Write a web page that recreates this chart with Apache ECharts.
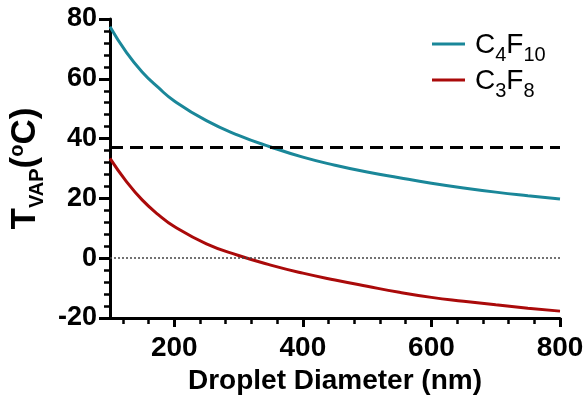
<!DOCTYPE html>
<html>
<head>
<meta charset="utf-8">
<script src="https://cdn.jsdelivr.net/npm/echarts@6/dist/echarts.min.js"></script>
<style>
	html, body { margin: 0; padding: 0; background: #fff; }
	#chart { width: 585px; height: 406px; }
</style>
</head>
<body>
<div id="chart"></div>
<script>
	// droplet diameter (nm)
	var diameters = [100, 125, 150, 175, 200, 250, 300, 350, 400, 450, 500, 550, 600, 650, 700, 750, 800];
	// vaporisation temperature (degC)
	var c4f10 = [77.4, 69.0, 62.3, 57.1, 52.6, 46.0, 41.1, 37.2, 33.8, 31.1, 28.8, 26.9, 25.1, 23.5, 22.1, 20.9, 19.8];
	var c3f8 = [33.4, 25.8, 19.5, 14.6, 10.6, 4.8, 0.9, -2.3, -5.0, -7.3, -9.4, -11.4, -13.1, -14.4, -15.6, -16.7, -17.7];
	var seriesNames = ['C4F10', 'C3F8'];
	var bodyTemp = 37;
	var xLabels = [200, 400, 600, 800];
	var xMinor = [120, 160, 240, 280, 320, 360, 440, 480, 520, 560, 640, 680, 720, 760];

	var font = 'Liberation Sans, Arial, sans-serif';
	var plotTop = 19, plotBottom = 88;

	function pairs(ys) {
		var out = [];
		for (var i = 0; i < diameters.length; i++) {
			out.push([diameters[i], ys[i]]);
		}
		return out;
	}

	// "C4F10" -> rich text with subscript digits
	function chem(name) {
		return name.replace(/([A-Za-z]+)/g, '{m|$1}').replace(/(\d+)/g, '{s|$1}');
	}

	var chart = echarts.init(document.getElementById('chart'));
	chart.setOption({
		animation: false,
		textStyle: { fontFamily: font },
		grid: {
			left: 110,
			right: 25,
			top: plotTop,
			bottom: plotBottom,
			containLabel: false,
			outerBoundsMode: 'none'
		},
		legend: {
			orient: 'vertical',
			left: 427,
			top: 26,
			itemWidth: 33,
			itemHeight: 3,
			itemGap: 2,
			icon: 'rect',
			data: seriesNames,
			formatter: chem,
			textStyle: {
				padding: [0, 0, 0, 5],
				rich: {
					m: { fontSize: 28, color: '#000', fontFamily: font, lineHeight: 30, verticalAlign: 'bottom' },
					s: { fontSize: 20, color: '#000', fontFamily: font, lineHeight: 30, verticalAlign: 'bottom', padding: [0, 0, -6, 0] }
				}
			}
		},
		xAxis: [{
			type: 'value',
			min: 100,
			max: 800,
			name: 'Droplet Diameter (nm)',
			nameLocation: 'middle',
			nameGap: 46,
			nameTextStyle: { fontSize: 28, fontWeight: 'bold', color: '#000', fontFamily: font },
			axisLine: { onZero: false, lineStyle: { color: '#000', width: 3 } },
			axisTick: { length: 9, lineStyle: { color: '#000', width: 3 }, customValues: xLabels },
			axisLabel: { fontSize: 28, fontWeight: 'bold', color: '#000', margin: 16, customValues: xLabels },
			splitLine: { show: false }
		}, {
			// minor ticks: top axis pulled down onto the bottom edge
			type: 'value',
			min: 100,
			max: 800,
			position: 'top',
			offset: -(406 - plotTop - plotBottom),
			axisLine: { show: false, onZero: false },
			axisTick: { inside: true, length: 6, lineStyle: { color: '#000', width: 2.5 }, customValues: xMinor },
			axisLabel: { show: false },
			splitLine: { show: false }
		}],
		yAxis: {
			type: 'value',
			min: -20,
			max: 80,
			interval: 20,
			name: '{t|T}{s|VAP}{t|(}{o|o}{t|C)}',
			nameLocation: 'middle',
			nameGap: 66,
			nameTextStyle: {
				rich: {
					t: { fontSize: 35, fontWeight: 'bold', color: '#000', fontFamily: font, lineHeight: 40, verticalAlign: 'bottom' },
					s: { fontSize: 20, fontWeight: 'bold', color: '#000', fontFamily: font, lineHeight: 40, verticalAlign: 'bottom', padding: [0, 0, -4, 0] },
					o: { fontSize: 20, fontWeight: 'bold', color: '#000', fontFamily: font, lineHeight: 40, verticalAlign: 'top', padding: [4, 0, 0, 0] }
				}
			},
			axisLine: { show: true, onZero: false, lineStyle: { color: '#000', width: 3 } },
			axisTick: { show: true, length: 11, lineStyle: { color: '#000', width: 3 } },
			minorTick: { show: true, splitNumber: 5, length: 6, lineStyle: { color: '#000', width: 2.5 } },
			axisLabel: { fontSize: 27, fontWeight: 'bold', color: '#000', margin: 13 },
			splitLine: { show: false }
		},
		series: [{
			name: seriesNames[0],
			type: 'line',
			data: pairs(c4f10),
			smooth: 0.5,
			showSymbol: false,
			symbol: 'none',
			color: '#1a8799',
			lineStyle: { width: 3 },
			markLine: {
				silent: true,
				symbol: 'none',
				label: { show: false },
				lineStyle: { color: '#000', width: 3, type: [13, 7] },
				data: [{ yAxis: bodyTemp }]
			}
		}, {
			name: seriesNames[1],
			type: 'line',
			data: pairs(c3f8),
			smooth: 0.5,
			showSymbol: false,
			symbol: 'none',
			color: '#aa0a0a',
			lineStyle: { width: 3 },
			markLine: {
				silent: true,
				symbol: 'none',
				label: { show: false },
				lineStyle: { color: '#444', width: 1.5, type: [2, 2] },
				data: [{ yAxis: 0 }]
			}
		}]
	});
</script>
</body>
</html>
